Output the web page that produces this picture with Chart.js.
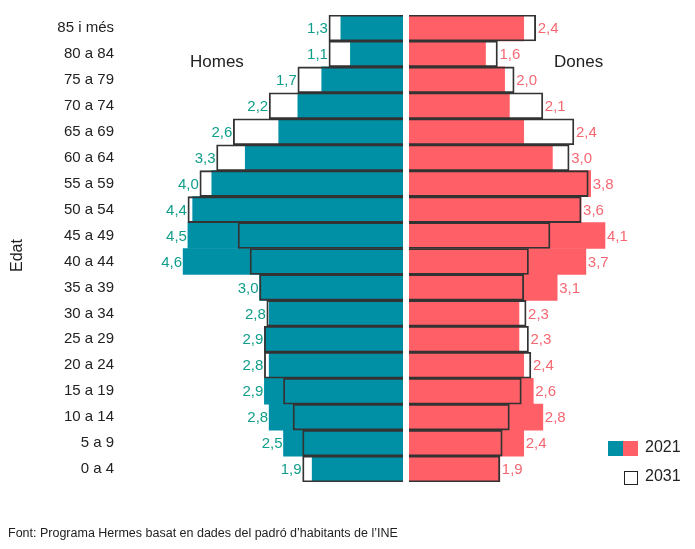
<!DOCTYPE html>
<html>
<head>
<meta charset="utf-8">
<script src="https://cdn.jsdelivr.net/npm/chart.js@4"></script>
<style>
  body { margin: 0; background: #fff; font-family: "Liberation Sans", Arial, sans-serif; }
  .wrap { position: relative; width: 695px; height: 549px; }
  .abs { position: absolute; }
  #left { left: 0; top: 0; width: 403px; height: 549px; }
  #right { left: 409px; top: 0; width: 286px; height: 549px; }
  .txt { position: absolute; color: #222; font-size: 17px; }
</style>
</head>
<body>
<div class="wrap">
  <div class="abs" id="left"><canvas id="cl"></canvas></div>
  <div class="abs" id="right"><canvas id="cr"></canvas></div>
  <div class="txt" style="left:190px;top:52px;">Homes</div>
  <div class="txt" style="left:554px;top:52px;">Dones</div>
  <div class="txt" style="left:8px;top:272px;transform:rotate(-90deg);transform-origin:left top;font-size:16px;">Edat</div>
  <div class="abs" style="left:608px;top:441px;width:15px;height:15px;background:#0090a6;"></div>
  <div class="abs" style="left:623px;top:441px;width:15px;height:15px;background:#ff5f66;"></div>
  <div class="txt" style="left:645px;top:438px;font-size:16px;">2021</div>
  <div class="abs" style="left:624px;top:471px;width:12px;height:12px;border:1px solid #222;"></div>
  <div class="txt" style="left:645px;top:467px;font-size:16px;">2031</div>
  <div class="txt" style="left:8px;top:526px;font-size:12.5px;">Font: Programa Hermes basat en dades del padró d’habitants de l’INE</div>
</div>
<script>
var ages = ["85 i més", "80 a 84", "75 a 79", "70 a 74", "65 a 69", "60 a 64", "55 a 59", "50 a 54",
  "45 a 49", "40 a 44", "35 a 39", "30 a 34", "25 a 29", "20 a 24", "15 a 19", "10 a 14", "5 a 9", "0 a 4"];
var men2021 = [1.3, 1.1, 1.7, 2.2, 2.6, 3.3, 4.0, 4.4, 4.5, 4.6, 3.0, 2.8, 2.9, 2.8, 2.9, 2.8, 2.5, 1.9];
var men2031 = [1.55, 1.55, 2.2, 2.8, 3.55, 3.9, 4.25, 4.5, 3.45, 3.2, 3.0, 2.85, 2.9, 2.9, 2.5, 2.3, 2.1, 2.1];
var women2021 = [2.4, 1.6, 2.0, 2.1, 2.4, 3.0, 3.8, 3.6, 4.1, 3.7, 3.1, 2.3, 2.3, 2.4, 2.6, 2.8, 2.4, 1.9];
var women2031 = [2.65, 1.85, 2.2, 2.8, 3.45, 3.35, 3.75, 3.6, 2.95, 2.5, 2.4, 2.45, 2.5, 2.55, 2.35, 2.1, 1.95, 1.9];

var PX = 47.8;
function fmt(v) { return v.toFixed(1).replace(".", ","); }

function valueLabels(d21, d31, color, isLeft) {
  return {
    id: "vl",
    afterDatasetsDraw: function (chart) {
      var c = chart.ctx, xs = chart.scales.x, ys = chart.scales.y;
      c.save();
      c.font = "15px 'Liberation Sans', Arial, sans-serif";
      c.fillStyle = color;
      c.textBaseline = "middle";
      c.textAlign = isLeft ? "right" : "left";
      for (var i = 0; i < d21.length; i++) {
        var px = xs.getPixelForValue(Math.max(d21[i], d31[i]));
        var y = ys.getPixelForValue(i) + 1;
        c.fillText(fmt(d21[i]), isLeft ? px - 1 : px + 2, y);
      }
      c.restore();
    }
  };
}

function makeChart(id, d21, d31, fill, lblColor, isLeft, w) {
  return new Chart(document.getElementById(id), {
    type: "bar",
    data: {
      labels: ages,
      datasets: [
        { data: d21, backgroundColor: fill, borderWidth: 0, grouped: false, order: 2 },
        { data: d31, backgroundColor: "rgba(0,0,0,0)", borderColor: "#333", borderWidth: 1.2, grouped: false, order: 1 }
      ]
    },
    options: {
      indexAxis: "y",
      responsive: true,
      maintainAspectRatio: false,
      animation: false,
      barPercentage: 1,
      categoryPercentage: 1,
      layout: { padding: { top: 15, bottom: 67, left: 0, right: 0 } },
      plugins: { legend: { display: false }, tooltip: { enabled: false } },
      scales: {
        x: {
          display: false,
          reverse: isLeft,
          min: 0,
          max: w / PX
        },
        y: {
          display: isLeft,
          grid: { display: false },
          border: { display: false },
          ticks: { color: "#222", font: { size: 15, family: "'Liberation Sans', Arial, sans-serif" }, padding: 0 },
          afterFit: function (s) { if (isLeft) s.width = 122; }
        }
      }
    },
    plugins: [valueLabels(d21, d31, lblColor, isLeft)]
  });
}

makeChart("cl", men2021, men2031, "#0090a6", "#109e8a", true, 281);
makeChart("cr", women2021, women2031, "#ff5f66", "#f56872", false, 286);
</script>
</body>
</html>
